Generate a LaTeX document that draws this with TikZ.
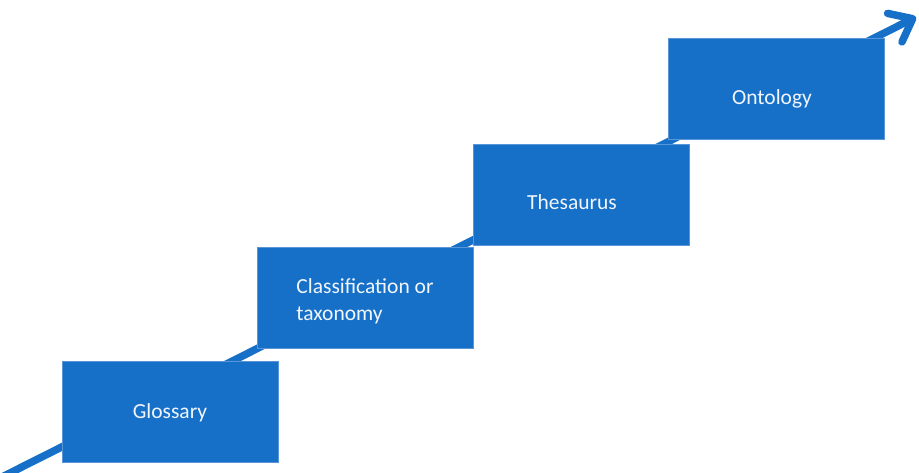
\documentclass[tikz,border=0pt]{standalone}
\usepackage{fontspec}
\setmainfont{Carlito}
\usetikzlibrary{arrows.meta,positioning}
\definecolor{stepblue}{RGB}{23,112,200}
\definecolor{stepedge}{RGB}{90,150,215}
\tikzset{
  stairbox/.style={
    rectangle, draw=stepedge, line width=0.8pt, fill=stepblue,
    minimum width=216pt, minimum height=101pt, inner sep=0pt
  },
  stairtext/.style={text=white!94!stepblue, font=\fontsize{21.5}{27}\selectfont, align=left},
  stairarrow/.style={draw=stepblue, line width=7.5pt,
    -{Straight Barb[length=20pt 0 0, width=32pt 0 0, round]}},
}
\begin{document}
\begin{tikzpicture}[x=1pt, y=-1pt]
  \useasboundingbox (0,0) rectangle (919,472);
  % rising arrow behind the steps
  \coordinate (start) at (0,478);
  \coordinate (finish) at (916,17);
  \draw[stairarrow] (start) -- (finish);
  % the four steps
  \node (glossary) [stairbox] at (170,412) {};
  \node (taxonomy) [stairbox] at (365,298) {};
  \node (thesaurus) [stairbox] at (581,195) {};
  \node (ontology) [stairbox] at (776,89) {};
  \node (glossarytxt) [stairtext] at (170,413) {Glossary};
  \node (taxonomytxt) [stairtext] at (365,301) {Classification or\\taxonomy};
  \node (thesaurustxt) [stairtext] at (572,202) {Thesaurus};
  \node (ontologytxt) [stairtext] at (772,99) {Ontology};
\end{tikzpicture}
\end{document}
